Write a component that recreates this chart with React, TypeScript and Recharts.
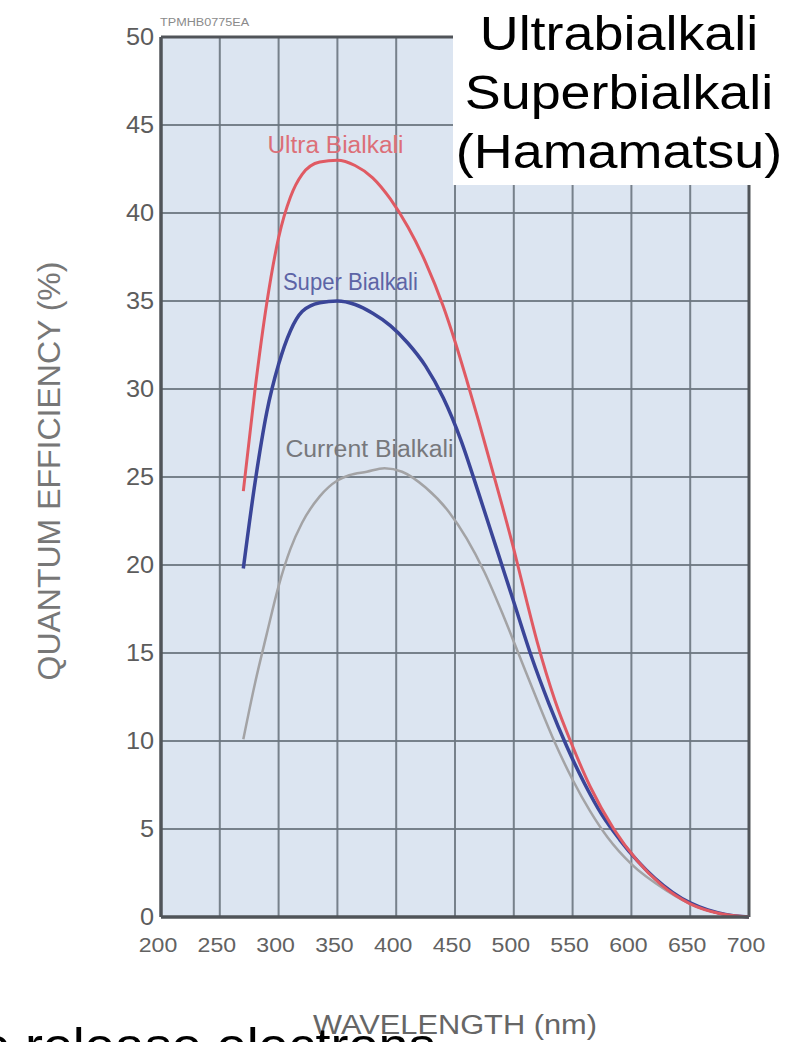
import React from "react";
import { LineChart, Line, XAxis, YAxis, CartesianGrid, ReferenceLine, Label } from "recharts";

const FONT = "'Liberation Sans', Arial, Helvetica, sans-serif";

const xTicks = [200, 250, 300, 350, 400, 450, 500, 550, 600, 650, 700];
const yTicks = [0, 5, 10, 15, 20, 25, 30, 35, 40, 45, 50];

const ultraNm = [270, 280, 290, 300, 310, 320, 335, 350, 365, 380, 395, 410, 425, 440, 450, 460, 470, 480, 490, 500, 510, 520, 535, 550, 565, 585, 605, 625, 650, 675, 700];
const ultraQE = [24.2, 30.0, 34.9, 38.6, 40.9, 42.2, 42.9, 43.0, 42.7, 42.0, 40.8, 39.2, 37.2, 34.7, 32.7, 30.5, 28.2, 25.8, 23.4, 20.9, 18.2, 15.6, 12.3, 9.7, 7.4, 5.0, 3.2, 1.85, 0.75, 0.2, 0];

const superNm = [270, 280, 290, 300, 310, 320, 335, 350, 365, 380, 395, 410, 425, 440, 455, 470, 485, 500, 515, 530, 545, 560, 575, 590, 605, 620, 635, 650, 665, 680, 700];
const superQE = [19.8, 24.7, 28.7, 31.4, 33.3, 34.4, 34.9, 35.0, 34.8, 34.3, 33.6, 32.6, 31.3, 29.5, 27.1, 24.1, 21.0, 17.9, 14.8, 12.1, 9.7, 7.6, 5.8, 4.4, 3.2, 2.2, 1.4, 0.8, 0.4, 0.15, 0];

const currentNm = [270, 280, 290, 300, 310, 320, 335, 350, 360, 375, 390, 405, 425, 445, 460, 475, 490, 505, 520, 535, 550, 565, 580, 600, 630, 655, 675, 700];
const currentQE = [10.1, 13.3, 16.1, 18.8, 20.9, 22.4, 23.9, 24.8, 25.1, 25.3, 25.5, 25.3, 24.4, 23.0, 21.5, 19.6, 17.3, 14.8, 12.3, 9.9, 7.8, 6.0, 4.5, 3.0, 1.5, 0.6, 0.2, 0];

const seriesNames = ["Ultra Bialkali", "Super Bialkali", "Current Bialkali"];
const titleLines = ["Ultrabialkali", "Superbialkali", "(Hamamatsu)"];
const xAxisTitle = "WAVELENGTH (nm)";
const yAxisTitle = "QUANTUM EFFICIENCY (%)";
const figureCode = "TPMHB0775EA";
const captionText = "o release electrons";

const toData = (nm: number[], qe: number[]) => nm.map((n, i) => ({ nm: n, qe: qe[i] }));
const ultraData = toData(ultraNm, ultraQE);
const superData = toData(superNm, superQE);
const currentData = toData(currentNm, currentQE);

const makeLineLabel = (atIndex: number, text: string, color: string, dx: number, dy: number, len: number) =>
  (p: any) => {
    if (p.index !== atIndex) return null;
    return (
      <text
        x={p.x + dx}
        y={p.y + dy}
        textAnchor="middle"
        fontFamily={FONT}
        fontSize={23}
        fill={color}
        textLength={len}
        lengthAdjust="spacingAndGlyphs"
      >
        {text}
      </text>
    );
  };

const YTick = (p: any) => (
  <text
    transform={`translate(${p.x - 7},${p.y}) scale(1.1,1)`}
    textAnchor="end"
    dy="0.36em"
    fontFamily={FONT}
    fontSize={23}
    fill="#5c5c5c"
  >
    {p.payload.value}
  </text>
);

const XTick = (p: any) => (
  <text
    transform={`translate(${p.x - 3},${p.y + 35}) scale(1.1,1)`}
    textAnchor="middle"
    fontFamily={FONT}
    fontSize={21}
    fill="#626262"
  >
    {p.payload.value}
  </text>
);

export default function App() {
  return (
    <div style={{ position: "absolute", left: 0, top: 0, width: 802, height: 1042, background: "#ffffff", overflow: "hidden" }}>
      <LineChart
        width={802}
        height={1042}
        margin={{ top: 37, right: 53, bottom: 0, left: 0 }}
      >
        <CartesianGrid fill="#dce5f1" stroke="#6c7580" strokeWidth={2} strokeOpacity={0.9} />
        <XAxis
          dataKey="nm"
          type="number"
          domain={[200, 700]}
          ticks={xTicks}
          interval={0}
          height={125}
          tickSize={0}
          tickMargin={0}
          tick={<XTick />}
          axisLine={{ stroke: "#505459", strokeWidth: 3.5 }}
          tickLine={false}
          allowDuplicatedCategory={false}
        >
          <Label
            content={(props: any) => {
              const vb = props.viewBox || { x: 161, width: 588 };
              return (
                <text
                  transform={`translate(${vb.x + vb.width / 2},1034) scale(1.1,1)`}
                  textAnchor="middle"
                  fontFamily={FONT}
                  fontSize={28}
                  fill="#666666"
                >
                  {xAxisTitle}
                </text>
              );
            }}
          />
        </XAxis>
        <YAxis
          type="number"
          domain={[0, 50]}
          ticks={yTicks}
          interval={0}
          width={161}
          tickSize={0}
          tickMargin={0}
          tick={<YTick />}
          axisLine={{ stroke: "#505459", strokeWidth: 3.5 }}
          tickLine={false}
        >
          <Label
            content={(props: any) => {
              const vb = props.viewBox || { y: 37, height: 880 };
              const cy = vb.y + vb.height / 2 - 6;
              return (
                <text
                  transform={`translate(48,${cy}) rotate(-90)`}
                  textAnchor="middle"
                  dy="0.36em"
                  fontFamily={FONT}
                  fontSize={32}
                  fill="#777777"
                >
                  {yAxisTitle}
                </text>
              );
            }}
          />
        </YAxis>
        <ReferenceLine y={50} stroke="#505459" strokeWidth={3} ifOverflow="extendDomain" />
        <ReferenceLine x={700} stroke="#505459" strokeWidth={3} ifOverflow="extendDomain" />
        <Line
          data={currentData}
          dataKey="qe"
          type="monotone"
          stroke="#a3a3a5"
          strokeWidth={2.5}
          dot={false}
          isAnimationActive={false}
          label={makeLineLabel(10, seriesNames[2], "#77787c", -15, -11, 168)}
        />
        <Line
          data={superData}
          dataKey="qe"
          type="monotone"
          stroke="#3a4598"
          strokeWidth={3.5}
          dot={false}
          isAnimationActive={false}
          label={makeLineLabel(7, seriesNames[1], "#5d64a6", 13, -11, 135)}
        />
        <Line
          data={ultraData}
          dataKey="qe"
          type="monotone"
          stroke="#e05a63"
          strokeWidth={3}
          dot={false}
          isAnimationActive={false}
          label={makeLineLabel(7, seriesNames[0], "#dc6f78", -2, -7, 136)}
        />
      </LineChart>
      <svg
        width={802}
        height={1042}
        style={{ position: "absolute", left: 0, top: 0, pointerEvents: "none" }}
      >
        <text
          transform="translate(160,26) scale(1.15,1)"
          fontFamily={FONT}
          fontSize={11}
          fill="#8a8a8a"
        >
          {figureCode}
        </text>
        <rect x={453} y={0} width={349} height={185} fill="#ffffff" />
        {titleLines.map((t, i) => (
          <text
            key={t}
            transform={`translate(619,${50 + i * 59}) scale(1.1,1)`}
            textAnchor="middle"
            fontFamily={FONT}
            fontSize={49}
            fill="#000000"
          >
            {t}
          </text>
        ))}
        <text
          transform="translate(-20,1062) scale(1.1,1)"
          fontFamily={FONT}
          fontSize={49}
          fill="#000000"
        >
          {captionText}
        </text>
      </svg>
    </div>
  );
}
